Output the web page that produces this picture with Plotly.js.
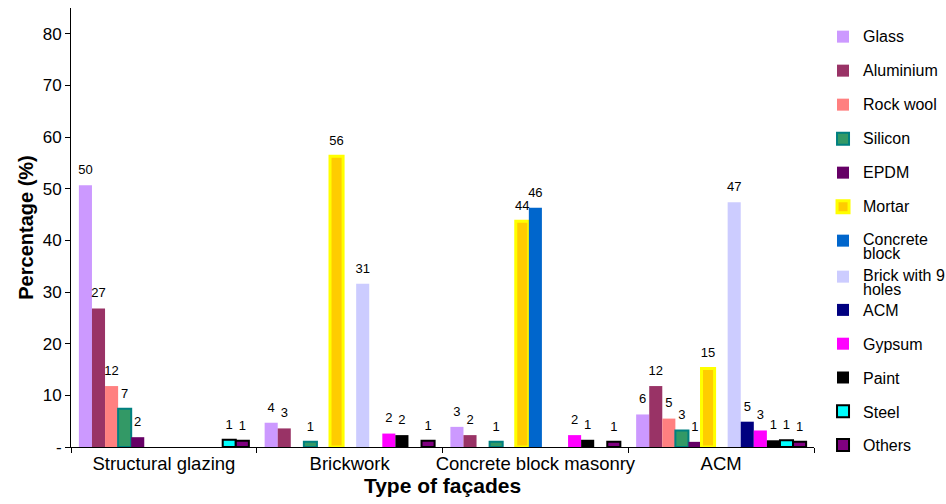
<!DOCTYPE html>
<html><head><meta charset="utf-8">
<script src="https://cdn.plot.ly/plotly-3.0.1.min.js"></script>
<style>html,body{margin:0;padding:0;background:#fff}#chart{width:946px;height:504px}</style>
</head><body><div id="chart"></div>
<script>
const categories = ['Structural glazing','Brickwork','Concrete block masonry','ACM'];
const seriesNames = ['Glass','Aluminium','Rock wool','Silicon','EPDM','Mortar','Concrete<br>block','Brick with 9<br>holes','ACM','Gypsum','Paint','Steel','Others'];
const glass     = [50.7, 4.7, 3.9, 6.3];
const aluminium = [26.8, 3.6, 2.3, 11.8];
const rockWool  = [11.8, null, null, 5.5];
const silicon   = [7.4, 1.0, 1.0, 3.2];
const epdm      = [1.9, null, null, 1.0];
const mortar    = [null, 56.3, 43.7, 15.2];
const concrete  = [null, null, 46.3, null];
const brick9    = [null, 31.6, null, 47.4];
const acm       = [null, null, null, 4.9];
const gypsum    = [null, 2.6, 2.3, 3.2];
const paint     = [null, 2.3, 1.4, 1.3];
const steel     = [1.4, null, null, 1.3];
const others    = [1.2, 1.2, 1.0, 1.0];
const labels = [
  ['50','4','3','6'],
  ['27','3','2','12'],
  ['12','','','5'],
  ['7','1','1','3'],
  ['2','','','1'],
  ['','56','44','15'],
  ['','','46',''],
  ['','31','','47'],
  ['','','','5'],
  ['','2','2','3'],
  ['','2','1','1'],
  ['1','','','1'],
  ['1','1','1','1']
];
const yTickVals = [0,10,20,30,40,50,60,70,80];
const yTickText = ['-','10','20','30','40','50','60','70','80'];

const values = [glass,aluminium,rockWool,silicon,epdm,mortar,concrete,brick9,acm,gypsum,paint,steel,others];
const fills  = ['#CC99FF','#993366','#FF8080','#339966','#660066','#FFCC00','#0066CC','#CCCCFF','#000080','#FF00FF','#000000','#00FFFF','#800080'];
const lines  = [null,null,null,{color:'#008080',width:2},null,{color:'#FFFF00',width:3},null,null,null,null,null,{color:'#000000',width:2},{color:'#000000',width:2}];
const legendOf = i => (i <= 6 ? 'legend' : (i === 7 ? 'legend2' : 'legend3'));

const FONT = 'Liberation Sans, Arial, Helvetica, sans-serif';
// legends 1 and 2 use a small base font (tight line spacing) with the visible text at 16px
const legendName = i => (i <= 7 ? '<span style="font-size:16px">' + seriesNames[i] + '</span>' : seriesNames[i]);
const bars = values.map((v,i)=>({
  type:'bar', name:legendName(i), x:categories, y:v,
  marker:{color:fills[i], line: lines[i] || {width:0}},
  offsetgroup:'s'+i, legendgroup:'g'+i, legend:legendOf(i), hoverinfo:'y'
}));
const texts = values.map((v,i)=>({
  type:'scatter', mode:'markers+text', x:categories, y:v, text:labels[i],
  textposition:'top center', cliponaxis:false, showlegend:false,
  marker:{size:11, opacity:0, color:'#fff'},
  textfont:{family:FONT,size:13,color:'#000'},
  offsetgroup:'s'+i, hoverinfo:'skip'
}));

const legendBase = {
  xref:'container', yref:'container', x:0.870, xanchor:'left', yanchor:'top',
  traceorder:'grouped', valign:'top', itemwidth:30, bgcolor:'rgba(0,0,0,0)'
};
const layout = {
  width:946, height:504,
  margin:{l:71,r:132,t:8,b:57},
  paper_bgcolor:'#fff', plot_bgcolor:'#fff',
  font:{family:FONT,color:'#000'},
  barmode:'group', bargap:0.085, bargroupgap:0,
  scattermode:'group', scattergap:0.085,
  xaxis:{
    type:'category', range:[-0.5,3.5], showline:true, linecolor:'#000', linewidth:1,
    ticks:'outside', tickson:'boundaries', ticklen:5, tickcolor:'#000', tickangle:0,
    tickfont:{family:FONT,size:18.5}, showgrid:false,
    title:{text:'<b>Type of façades</b>', font:{family:FONT,size:21}, standoff:4}
  },
  yaxis:{
    range:[0,85], tickvals:yTickVals, ticktext:yTickText, showline:true, linecolor:'#000',
    ticks:'outside', ticklen:5, tickcolor:'#000', showgrid:false, zeroline:false,
    tickfont:{family:FONT,size:17},
    title:{text:'<b>Percentage (%)</b>', font:{family:FONT,size:20}, standoff:3}
  },
  legend:Object.assign({}, legendBase, {y:1-23/504, font:{family:FONT,size:11}, tracegroupgap:15}),
  legend2:Object.assign({}, legendBase, {y:1-263/504, font:{family:FONT,size:11}, tracegroupgap:15}),
  legend3:Object.assign({}, legendBase, {y:1-293/504, font:{family:FONT,size:16}, tracegroupgap:10}),
  showlegend:true
};
Plotly.newPlot('chart', bars.concat(texts), layout, {displayModeBar:false, staticPlot:true});
</script></body></html>
